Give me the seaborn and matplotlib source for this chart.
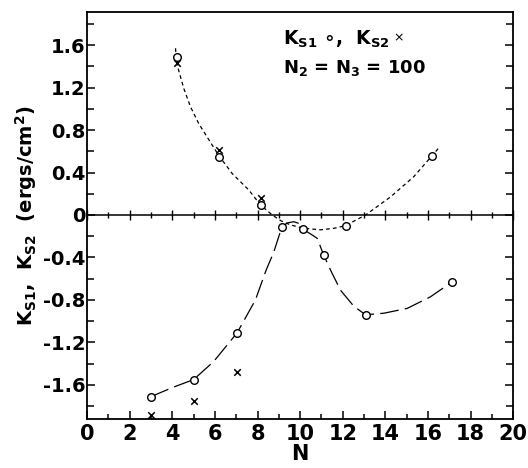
import numpy as np
import pandas as pd
import matplotlib
matplotlib.use("Agg")
import matplotlib.pyplot as plt
import seaborn as sns
from matplotlib.ticker import MultipleLocator, FuncFormatter

# K_S1 (open circles)
ks1_n = [4.2, 6.18, 8.14, 16.2, 3.0, 5.0, 7.04, 9.15, 10.14, 11.1, 12.13, 13.07, 17.13]
ks1 = [1.49, 0.55, 0.094, 0.56, -1.71, -1.55, -1.11, -0.11, -0.135, -0.376, -0.10, -0.94, -0.63]

# K_S2 (crosses)
ks2_n = [3.0, 4.2, 5.0, 6.18, 7.04, 8.14]
ks2 = [-1.88, 1.43, -1.75, 0.61, -1.475, 0.157]

# hand-drawn guide curves
short_n = [4.15, 4.2, 4.54, 4.85, 5.24, 5.71, 6.18, 6.81, 7.59, 8.14, 8.69, 9.1, 9.55,
           10.17, 10.95, 11.6, 12.13, 13.07, 14.24, 15.33, 16.2, 16.5]
short_k = [1.57, 1.43, 1.19, 1.02, 0.86, 0.71, 0.56, 0.39, 0.235, 0.094, 0.0, -0.055, -0.094,
           -0.125, -0.14, -0.125, -0.10, 0.0, 0.17, 0.36, 0.56, 0.63]

long_n = [3.0, 4.07, 5.0, 5.94, 7.04, 7.9, 8.4, 8.76, 9.0, 9.15, 9.4, 9.7, 9.95,
          10.14, 10.5, 10.8, 11.1, 11.5, 11.9, 12.52, 13.07, 13.93, 15.02, 16.12, 17.13]
long_k = [-1.71, -1.62, -1.55, -1.38, -1.11, -0.80, -0.52, -0.35, -0.20, -0.11, -0.075,
          -0.063, -0.08, -0.135, -0.18, -0.22, -0.376, -0.55, -0.71, -0.86, -0.94,
          -0.925, -0.88, -0.77, -0.63]

x_ticks = list(range(0, 21, 2))
y_ticks = [-1.6, -1.2, -0.8, -0.4, 0, 0.4, 0.8, 1.2, 1.6]

sns.set_style("ticks")
plt.rcParams["font.family"] = ["DejaVu Sans"]
plt.rcParams["font.weight"] = "bold"
plt.rcParams["axes.labelweight"] = "bold"
for k in ["text.color", "axes.labelcolor", "xtick.color", "ytick.color", "axes.edgecolor"]:
    plt.rcParams[k] = "black"
plt.rcParams["mathtext.fontset"] = "custom"
plt.rcParams["mathtext.rm"] = "DejaVu Sans:bold"
plt.rcParams["mathtext.it"] = "DejaVu Sans:bold"
plt.rcParams["mathtext.bf"] = "DejaVu Sans:bold"
plt.rcParams["mathtext.default"] = "rm"

fig = plt.figure(figsize=(5.28, 4.68), dpi=100)
ax = fig.add_axes([0.165, 0.105, 0.807, 0.869])

df_s = pd.DataFrame({"N": short_n, "K": short_k})
df_l = pd.DataFrame({"N": long_n, "K": long_k})
sns.lineplot(data=df_s, x="N", y="K", ax=ax, color="black", lw=0.9,
             linestyle=(0, (3, 2.5)), sort=False, estimator=None)
sns.lineplot(data=df_l, x="N", y="K", ax=ax, color="black", lw=0.9,
             linestyle=(0, (15, 5)), sort=False, estimator=None)

sns.scatterplot(x=ks1_n, y=ks1, ax=ax, marker="o", s=30, color="white",
                edgecolor="black", linewidth=1.0, zorder=4)
sns.scatterplot(x=ks2_n, y=ks2, ax=ax, marker="x", s=22, color="black",
                linewidth=1.1, zorder=4)

ax.set_xlim(0, 20)
ax.set_ylim(-1.92, 1.91)

ax.xaxis.set_minor_locator(MultipleLocator(1))
ax.yaxis.set_minor_locator(MultipleLocator(0.2))
ax.set_xticks(x_ticks)
ax.set_yticks(y_ticks)
ax.yaxis.set_major_formatter(FuncFormatter(lambda v, p: "0" if abs(v) < 1e-9 else f"{v:.1f}"))

ax.tick_params(which="both", direction="in", top=True, right=True, width=1.1)
ax.tick_params(which="major", length=6)
ax.tick_params(which="minor", length=5)
ax.tick_params(axis="x", which="minor", bottom=True, length=3.5)
ax.tick_params(axis="x", labelsize=15, pad=4)
ax.tick_params(axis="y", labelsize=14, pad=1)
for s in ax.spines.values():
    s.set_linewidth(1.3)

# zero line with its own ticks
ax0 = ax.twiny()
ax0.set_xlim(0, 20)
for s in ["top", "left", "right"]:
    ax0.spines[s].set_visible(False)
ax0.spines["bottom"].set_position(("data", 0))
ax0.spines["bottom"].set_linewidth(1.1)
ax0.xaxis.set_ticks_position("bottom")
ax0.xaxis.set_major_locator(MultipleLocator(2))
ax0.xaxis.set_minor_locator(MultipleLocator(1))
ax0.tick_params(which="both", direction="inout", labelbottom=False, labeltop=False, width=1.0)
ax0.tick_params(which="major", length=7)
ax0.tick_params(which="minor", length=4)

ax.set_xlabel("N", fontsize=15, labelpad=0)
ax.set_ylabel(r"$K_{S1}$,  $K_{S2}$  (ergs/cm$^2$)", fontsize=14, labelpad=3)

t1 = ax.text(9.2, 1.65, r"$K_{S1}$ $\circ$,  $K_{S2}$", fontsize=13.5, va="center", ha="left")
ax.annotate("×", xy=(1, 0.6), xycoords=t1, xytext=(3, 0), textcoords="offset points",
            va="center", ha="left", fontsize=9, fontweight="normal")
ax.text(9.2, 1.38, r"$N_2$ = $N_3$ = 100", fontsize=13, va="center", ha="left")

fig.savefig("out.png", dpi=100)
